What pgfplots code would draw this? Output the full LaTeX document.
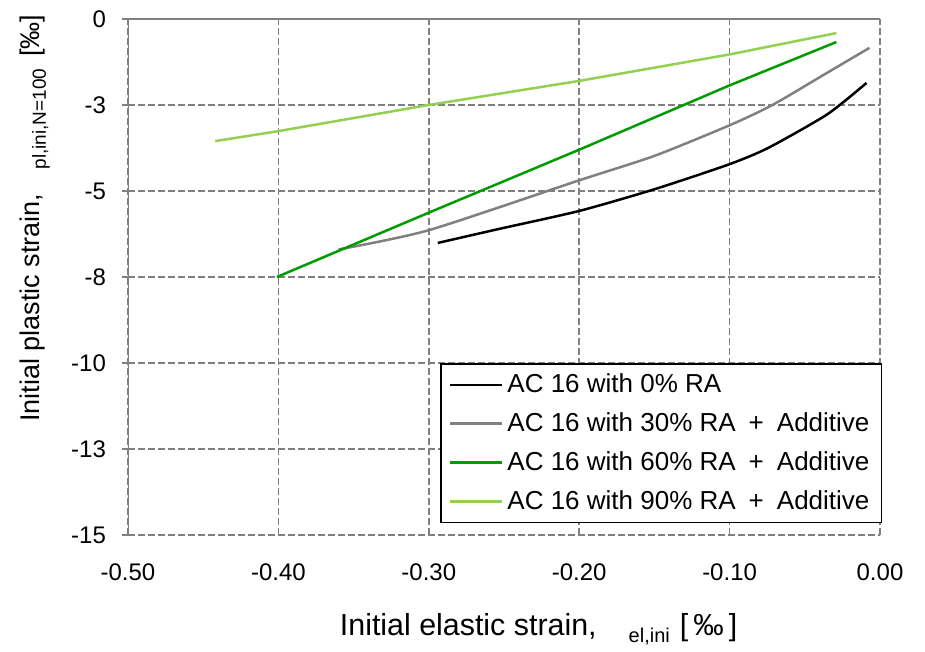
\documentclass[border=0pt]{standalone}
\usepackage{pgfplots}
\pgfplotsset{compat=1.18}
\usepackage{fontspec}
\setmainfont{Liberation Sans}
\definecolor{darkgreen}{RGB}{0,155,0}
\definecolor{lightgreen}{RGB}{146,208,80}
\definecolor{axgray}{RGB}{128,128,128}
\begin{document}
\begin{tikzpicture}
\begin{axis}[
  scale only axis,
  width=376pt, height=258pt,
  xmin=-0.5, xmax=0, ymin=-15, ymax=0,
  xtick={-0.5,-0.4,-0.3,-0.2,-0.1,0},
  xticklabels={-0.50,-0.40,-0.30,-0.20,-0.10,0.00},
  ytick={-15,-12.5,-10,-7.5,-5,-2.5,0},
  yticklabels={-15,-13,-10,-8,-5,-3,0},
  /pgf/number format/assume math mode=true,
  ticklabel style={font=\fontsize{12}{14}\selectfont},
  xticklabel style={yshift=-8pt},
  yticklabel style={xshift=-4.5pt},
  axis line style={draw=none},
  xtick style={draw=none},
  ytick style={axgray, line width=0.75pt},
  ytick pos=left,
  tick align=outside,
  major tick length=3pt,
  grid=major,
  major grid style={axgray, line width=0.75pt, dash pattern=on 3.3pt off 1.7pt},
  xlabel={\fontsize{15.2}{17}\selectfont Initial elastic strain,\hspace{16pt}\raisebox{-0.45ex}{\fontsize{10}{11}\selectfont el,ini}\hspace{5pt}[\,‰\,]},
  ylabel={\fontsize{13.5}{15}\selectfont Initial plastic strain,\hspace{12pt}\raisebox{-0.45ex}{\fontsize{9.5}{10}\selectfont pl,ini,N=100}\hspace{6pt}[‰]},
  xlabel style={at={(axis description cs:0.546,-0.182)}, anchor=center},
  ylabel style={at={(axis description cs:-0.124,0.614)}, anchor=center},
  legend style={at={(axis description cs:1.003,0.023)}, anchor=south east,
    draw=black, line width=0.8pt, font=\fontsize{13}{14}\selectfont,
    row sep=4.5pt, inner xsep=4pt, inner ysep=3pt},
  legend cell align=left,
  legend image code/.code={\draw[#1, line width=1.25pt] (0pt,0pt) -- (26pt,0pt);},
]
\addplot[black, line width=1.25pt, smooth, tension=0.4] coordinates {
(-0.294,-6.51) (-0.254,-6.11) (-0.20,-5.58) (-0.15,-4.95) (-0.10,-4.22)
(-0.074,-3.74) (-0.035,-2.77) (-0.009,-1.86)};
\addlegendentry{AC 16 with 0\% RA}
\addplot[axgray, line width=1.25pt, smooth, tension=0.4] coordinates {
(-0.360,-6.70) (-0.30,-6.14) (-0.20,-4.69) (-0.15,-3.98) (-0.10,-3.09)
(-0.0715,-2.5) (-0.035,-1.56) (-0.007,-0.84)};
\addlegendentry{AC 16 with 30\% RA\enspace+\enspace Additive}
\addplot[darkgreen, line width=1.25pt] coordinates {
(-0.401,-7.50) (-0.30,-5.63) (-0.20,-3.80) (-0.10,-1.93) (-0.029,-0.67)};
\addlegendentry{AC 16 with 60\% RA\enspace+\enspace Additive}
\addplot[lightgreen, line width=1.25pt] coordinates {
(-0.442,-3.55) (-0.40,-3.26) (-0.30,-2.50) (-0.20,-1.80) (-0.10,-1.03) (-0.029,-0.41)};
\addlegendentry{AC 16 with 90\% RA\enspace+\enspace Additive}
\draw[axgray, line width=0.9pt] (rel axis cs:0,0) -- (rel axis cs:0,1) -- (rel axis cs:1,1);
\coordinate (BL) at (rel axis cs:0,0);
\coordinate (TR) at (rel axis cs:1,1);
\end{axis}
\path ([shift={(-64pt,-57pt)}]BL) rectangle ([shift={(22.5pt,9.5pt)}]TR);
\end{tikzpicture}
\end{document}
